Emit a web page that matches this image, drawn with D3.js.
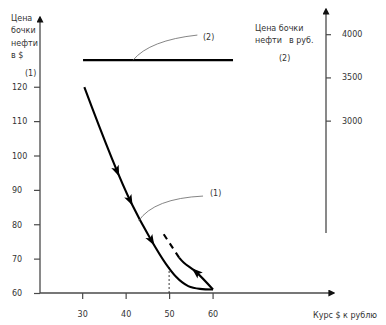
<!DOCTYPE html>
<html>
<head>
<meta charset="utf-8">
<script src="https://cdn.jsdelivr.net/npm/d3@7"></script>
<style>
  html, body { margin: 0; padding: 0; background: #fff; }
  svg { display: block; }
  text { font-family: "DejaVu Sans", Verdana, sans-serif; font-size: 8px; fill: #333; }
</style>
</head>
<body>
<svg id="chart" width="386" height="325"></svg>
<script>
// Oil price (USD per barrel) against the dollar-to-ruble rate
const rateTicks = [30, 40, 50, 60];
const usdTicks = [60, 70, 80, 90, 100, 110, 120];
const rubTicks = [3000, 3500, 4000];

// (1) path of the USD oil price as the rate moves
const pathRate = [30.5, 41.3, 45.6, 49.3, 51.6, 54.4, 57.1, 60.1];
const pathUsd  = [119.9, 86.2, 76.0, 68.4, 64.7, 62.0, 61.2, 61.0];
// return branch from the low point
const backRate = [60.1, 56.3, 53.4, 52.3];
const backUsd  = [61.0, 66.0, 68.8, 70.3];
// forecast continuation (dashed)
const dashRate = [52.3, 48.5];
const dashUsd  = [70.3, 77.6];
// (2) ruble price of a barrel, flat
const rubRate = [30.2, 64.7];
const rubLevel = 3700;
// direction arrows along (1), at these rates
const arrowsMain = [38.0, 41.0, 45.9];
const arrowsBack = [56.3];
const markedRate = 50;

const svg = d3.select("#chart");
const x = d3.scaleLinear().domain([20.3, 87.7]).range([40, 333]);
const yL = d3.scaleLinear().domain([60, 140]).range([293, 18]);
const yR = d3.scaleLinear().domain([1700, 4280]).range([233, 10]);

const axisColor = "#4a4a4a";

// arrowhead for axes
svg.append("defs").append("marker")
  .attr("id", "axArrow").attr("viewBox", "0 0 10 10")
  .attr("refX", 8).attr("refY", 5)
  .attr("markerWidth", 7).attr("markerHeight", 7)
  .attr("markerUnits", "userSpaceOnUse")
  .attr("orient", "auto")
  .append("path").attr("d", "M0,0 L10,5 L0,10 Z").attr("fill", "#111");

function styleAxis(g) {
  g.select(".domain").remove();
  g.selectAll(".tick line").attr("stroke", axisColor).attr("stroke-width", 1.2);
  g.selectAll(".tick text").attr("fill", "#333").style("font-size", "8px")
    .style("font-family", '"DejaVu Sans", Verdana, sans-serif');
}

// left axis
const gL = svg.append("g").attr("transform", "translate(40,0)")
  .call(d3.axisLeft(yL).tickValues(usdTicks).tickFormat(d3.format("d")).tickSize(6).tickSizeOuter(0))
  .call(styleAxis);
gL.selectAll(".tick text").attr("text-anchor", "start").attr("x", -28).attr("dy", "0.35em");
svg.append("line")
  .attr("x1", 40).attr("y1", yL(60)).attr("x2", 40).attr("y2", 17)
  .attr("stroke", axisColor).attr("stroke-width", 1.3)
  .attr("marker-end", "url(#axArrow)");

// bottom axis
svg.append("g").attr("transform", "translate(0,293)")
  .call(d3.axisBottom(x).tickValues(rateTicks).tickFormat(d3.format("d")).tickSize(6).tickPadding(12).tickSizeOuter(0))
  .call(styleAxis);
svg.append("line")
  .attr("x1", 40).attr("y1", 293).attr("x2", 334).attr("y2", 293)
  .attr("stroke", axisColor).attr("stroke-width", 1.3)
  .attr("marker-end", "url(#axArrow)");

// right axis
svg.append("g").attr("transform", "translate(326,0)")
  .call(d3.axisRight(yR).tickValues(rubTicks).tickFormat(d3.format("d")).tickSize(5).tickPadding(11).tickSizeOuter(0))
  .call(styleAxis);
svg.append("line")
  .attr("x1", 326).attr("y1", 233).attr("x2", 326).attr("y2", 9)
  .attr("stroke", axisColor).attr("stroke-width", 1.3)
  .attr("marker-end", "url(#axArrow)");

// axis titles
const leftTitle = ["Цена", "бочки", "нефти", "в $"];
svg.append("g").selectAll("text").data(leftTitle).join("text")
  .attr("x", 11).attr("y", (d, i) => 21 + i * 12.3).text(d => d);
svg.append("text").attr("x", 25).attr("y", 76).text("(1)");

svg.append("text").attr("x", 255).attr("y", 31).text("Цена бочки");
svg.append("text").attr("x", 255).attr("y", 43).text("нефти");
svg.append("text").attr("x", 289).attr("y", 43).text("в руб.");
svg.append("text").attr("x", 279).attr("y", 61).text("(2)");

svg.append("text").attr("x", 313).attr("y", 318).text("Курс $ к рублю");

// (2) ruble price line
svg.append("line")
  .attr("x1", x(rubRate[0])).attr("x2", x(rubRate[1]))
  .attr("y1", yR(rubLevel)).attr("y2", yR(rubLevel))
  .attr("stroke", "#000").attr("stroke-width", 2.2);

// marker for rate 50
svg.append("line")
  .attr("x1", x(markedRate)).attr("x2", x(markedRate))
  .attr("y1", yL(60)).attr("y2", yL(67.6))
  .attr("stroke", "#222").attr("stroke-width", 0.9)
  .attr("stroke-dasharray", "2,2");

// (1) curves
const line = d3.line().x(d => x(d[0])).y(d => yL(d[1])).curve(d3.curveMonotoneX);
const mainPts = pathRate.map((r, i) => [r, pathUsd[i]]);
const backPts = backRate.map((r, i) => [r, backUsd[i]]);
const dashPts = dashRate.map((r, i) => [r, dashUsd[i]]);

const mainPath = svg.append("path").attr("d", line(mainPts))
  .attr("fill", "none").attr("stroke", "#000").attr("stroke-width", 2.1)
  .attr("stroke-linejoin", "round");
const backPath = svg.append("path").attr("d", d3.line().x(d => x(d[0])).y(d => yL(d[1])).curve(d3.curveCatmullRom)(backPts))
  .attr("fill", "none").attr("stroke", "#000").attr("stroke-width", 2.1)
  .attr("stroke-linejoin", "round");
svg.append("path").attr("d", d3.line().x(d => x(d[0])).y(d => yL(d[1]))(dashPts))
  .attr("fill", "none").attr("stroke", "#000").attr("stroke-width", 2.1)
  .attr("stroke-dasharray", "6,5");

// direction arrows placed on a drawn path at a given rate
function arrowOn(pathSel, rate) {
  const node = pathSel.node();
  const total = node.getTotalLength();
  const target = x(rate);
  let best = 0, bestD = Infinity;
  for (let l = 0; l <= total; l += 0.5) {
    const p = node.getPointAtLength(l);
    const d = Math.abs(p.x - target);
    if (d < bestD) { bestD = d; best = l; }
  }
  const p = node.getPointAtLength(best);
  const a = node.getPointAtLength(Math.max(0, best - 2));
  const b = node.getPointAtLength(Math.min(total, best + 2));
  const ang = Math.atan2(b.y - a.y, b.x - a.x) * 180 / Math.PI;
  svg.append("path")
    .attr("d", "M6,0 L-5,-4 L-2.5,0 L-5,4 Z")
    .attr("fill", "#000")
    .attr("transform", `translate(${p.x},${p.y}) rotate(${ang})`);
}
arrowsMain.forEach(r => arrowOn(mainPath, r));
arrowsBack.forEach(r => arrowOn(backPath, r));

// callout leaders
const lead1 = d3.path();
lead1.moveTo(x(43.0), yL(81.0));
lead1.quadraticCurveTo(x(46.5), yL(87.5), x(57.8), yL(88.2));
svg.append("path").attr("d", lead1.toString())
  .attr("fill", "none").attr("stroke", "#666").attr("stroke-width", 0.8);
svg.append("text").attr("x", 210).attr("y", 196).text("(1)");

const lead2 = d3.path();
lead2.moveTo(x(41.7), yR(rubLevel));
lead2.quadraticCurveTo(x(45.5), yR(3930), x(56.5), yR(3990));
svg.append("path").attr("d", lead2.toString())
  .attr("fill", "none").attr("stroke", "#666").attr("stroke-width", 0.8);
svg.append("text").attr("x", 203).attr("y", 40).text("(2)");
</script>
</body>
</html>
